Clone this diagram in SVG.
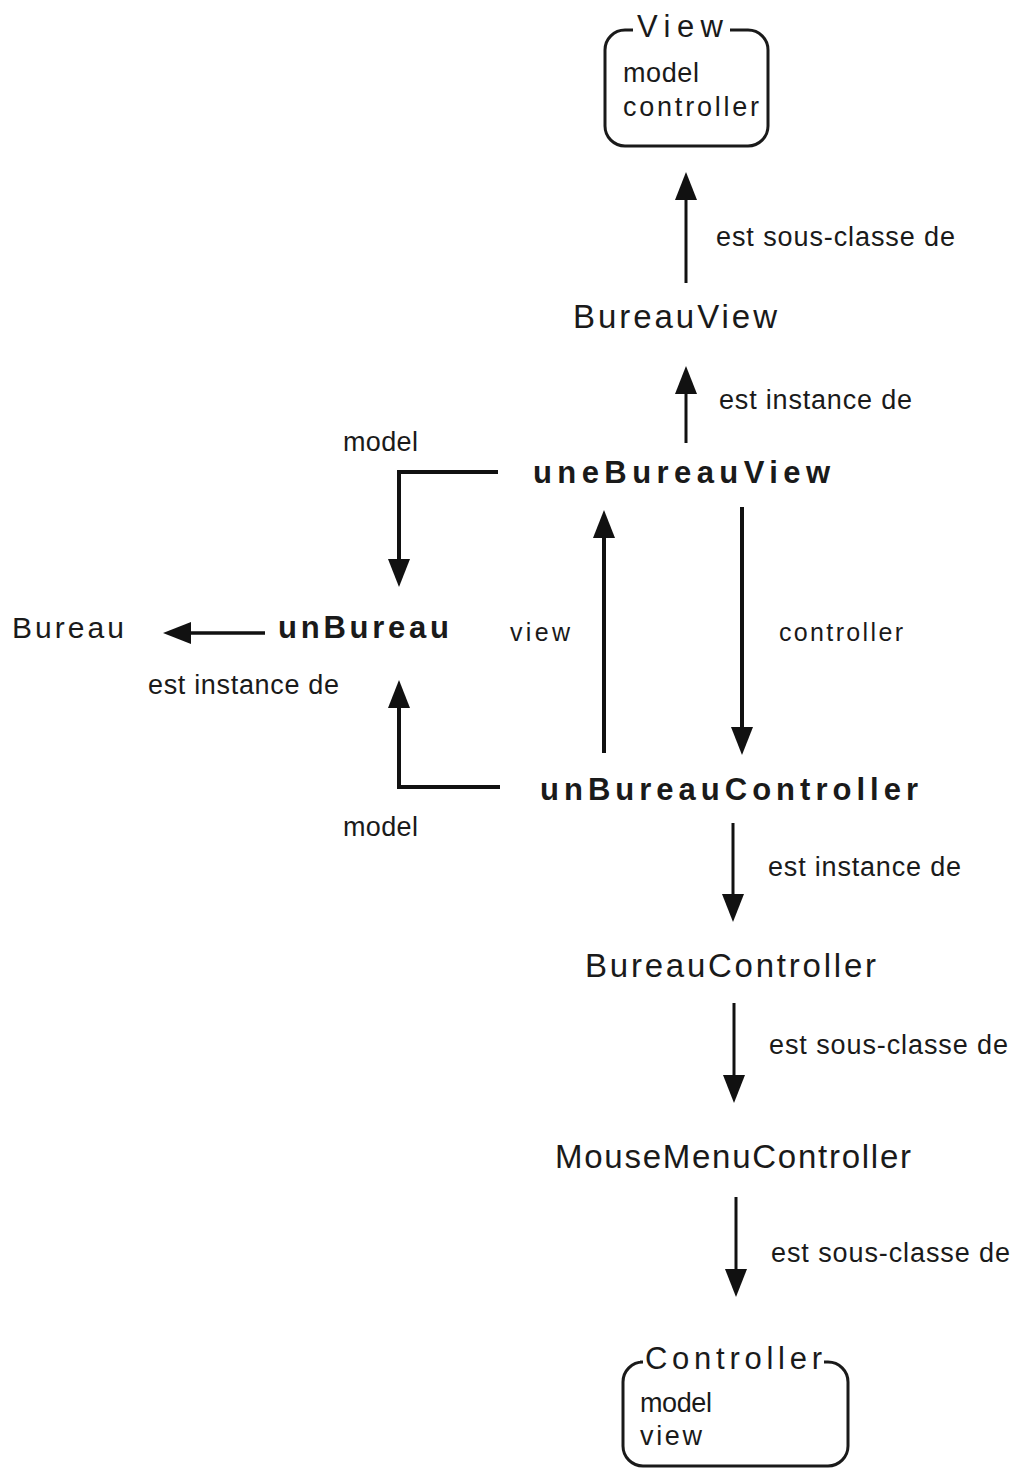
<svg xmlns="http://www.w3.org/2000/svg" width="1019" height="1468" viewBox="0 0 1019 1468">
<style>
text{font-family:"Liberation Sans",Arial,sans-serif;fill:#1a1a1a}
.cls{font-size:33px}
.inst{font-size:31px;font-weight:bold}
.lbl{font-size:27px}
.attr{font-size:27px}
.sm{font-size:25px}
.box{fill:none;stroke:#1a1a1a;stroke-width:3}
.conn{fill:none;stroke:#111;stroke-width:3.5;marker-end:url(#ah)}
</style>
<defs>
<marker id="ah" markerUnits="userSpaceOnUse" viewBox="0 0 28 22" refX="18" refY="11" markerWidth="28" markerHeight="22" orient="auto">
<path d="M0,0 L28,11 L0,22 z" fill="#111"/>
</marker>
</defs>
<rect width="1019" height="1468" fill="#fff"/>

<g id="node-View">
<path class="box" d="M633 30 H625 A20 20 0 0 0 605 50 V126 A20 20 0 0 0 625 146 H748 A20 20 0 0 0 768 126 V50 A20 20 0 0 0 748 30 H730"/>
<text x="637" y="37" font-size="31" textLength="86" lengthAdjust="spacing">View</text>
<text class="attr" x="623" y="82" textLength="76" lengthAdjust="spacing">model</text>
<text class="attr" x="623" y="116" textLength="136" lengthAdjust="spacing">controller</text>
</g>

<g id="node-BureauView">
<text class="cls" x="573" y="328" textLength="204" lengthAdjust="spacing">BureauView</text>
</g>

<g id="node-uneBureauView">
<text class="inst" x="533" y="483" textLength="297" lengthAdjust="spacing">uneBureauView</text>
</g>

<g id="node-Bureau">
<text x="12" y="638" font-size="30" textLength="112" lengthAdjust="spacing">Bureau</text>
</g>

<g id="node-unBureau">
<text class="inst" x="278" y="638" textLength="171" lengthAdjust="spacing">unBureau</text>
</g>

<g id="node-unBureauController">
<text class="inst" x="540" y="800" textLength="378" lengthAdjust="spacing">unBureauController</text>
</g>

<g id="node-BureauController">
<text class="cls" x="585" y="977" textLength="291" lengthAdjust="spacing">BureauController</text>
</g>

<g id="node-MouseMenuController">
<text class="cls" x="555" y="1168" textLength="356" lengthAdjust="spacing">MouseMenuController</text>
</g>

<g id="node-Controller">
<path class="box" d="M640 1362 H643 A20 20 0 0 0 623 1382 V1446 A20 20 0 0 0 643 1466 H828 A20 20 0 0 0 848 1446 V1382 A20 20 0 0 0 828 1362 H824"/>
<text x="645" y="1369" font-size="31" textLength="177" lengthAdjust="spacing">Controller</text>
<text class="attr" x="640" y="1412" textLength="72" lengthAdjust="spacing">model</text>
<text class="attr" x="640" y="1445" textLength="62" lengthAdjust="spacing">view</text>
</g>

<g id="connectors">
<path class="conn" style="stroke-width:3" d="M686 283 V182"/>
<path class="conn" style="stroke-width:3" d="M686 443 V376"/>
<path class="conn" style="stroke-width:4" d="M498 472 H399 V577"/>
<path class="conn" d="M265 633 H173"/>
<path class="conn" style="stroke-width:4" d="M500 787 H399 V690"/>
<path class="conn" style="stroke-width:4" d="M604 753 V520"/>
<path class="conn" style="stroke-width:4" d="M742 507 V745"/>
<path class="conn" style="stroke-width:3" d="M733 823 V912"/>
<path class="conn" style="stroke-width:3" d="M734 1003 V1093"/>
<path class="conn" style="stroke-width:3" d="M736 1197 V1287"/>
</g>

<g id="labels">
<text class="lbl" x="716" y="246" textLength="239" lengthAdjust="spacing">est sous-classe de</text>
<text class="lbl" x="719" y="409" textLength="193" lengthAdjust="spacing">est instance de</text>
<text class="attr" x="343" y="451" textLength="75" lengthAdjust="spacing">model</text>
<text class="sm" x="510" y="641" textLength="60" lengthAdjust="spacing">view</text>
<text class="sm" x="779" y="641" textLength="124" lengthAdjust="spacing">controller</text>
<text class="lbl" x="148" y="694" textLength="191" lengthAdjust="spacing">est instance de</text>
<text class="attr" x="343" y="836" textLength="75" lengthAdjust="spacing">model</text>
<text class="lbl" x="768" y="876" textLength="193" lengthAdjust="spacing">est instance de</text>
<text class="lbl" x="769" y="1054" textLength="239" lengthAdjust="spacing">est sous-classe de</text>
<text class="lbl" x="771" y="1262" textLength="239" lengthAdjust="spacing">est sous-classe de</text>
</g>
</svg>
